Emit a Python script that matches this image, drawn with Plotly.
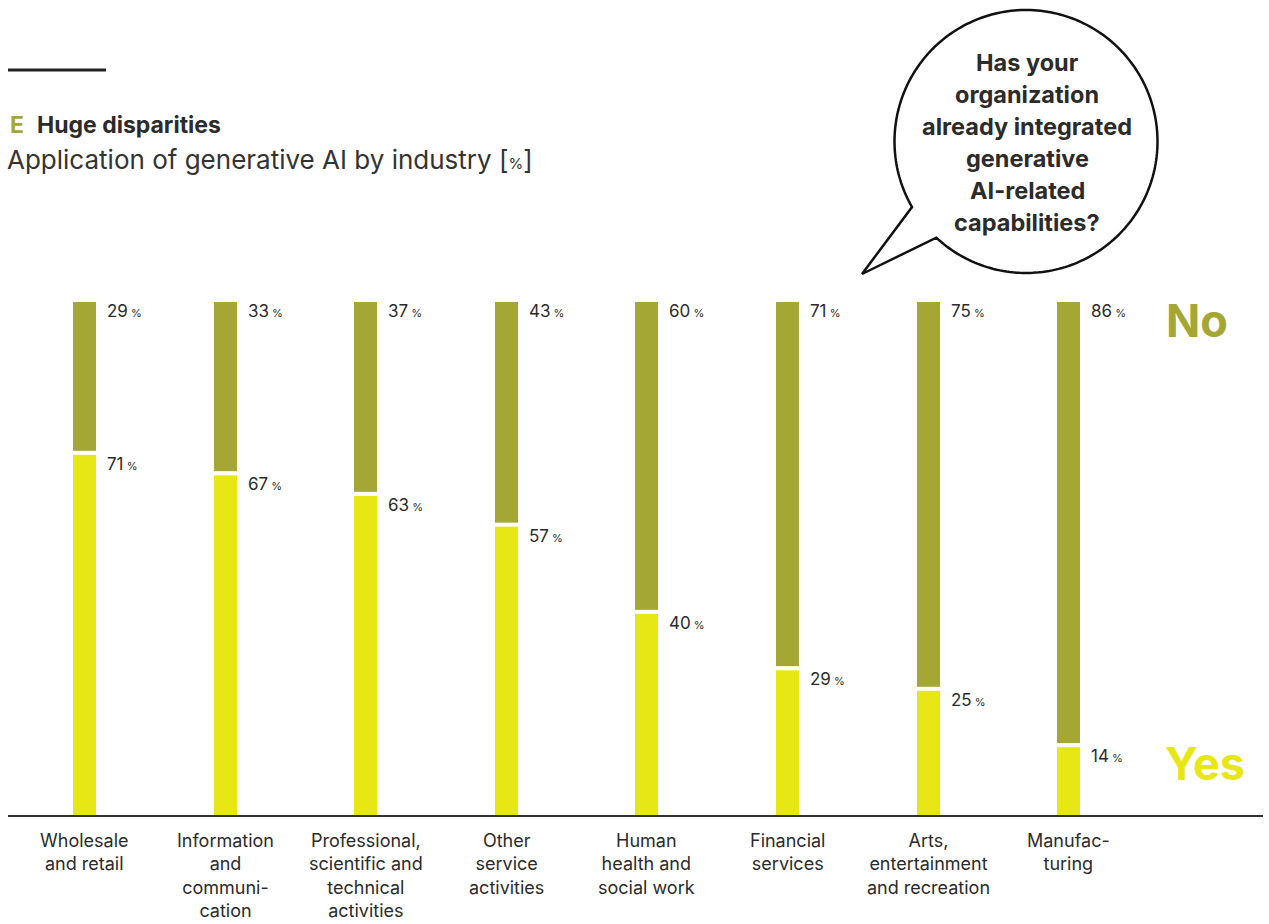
import numpy as np
import plotly.graph_objects as go

# Survey shares per industry, in percent
industries = [
    "Wholesale<br>and retail",
    "Information<br>and<br>communi-<br>cation",
    "Professional,<br>scientific and<br>technical<br>activities",
    "Other<br>service<br>activities",
    "Human<br>health and<br>social work",
    "Financial<br>services",
    "Arts,<br>entertainment<br>and recreation",
    "Manufac-<br>turing",
]
yes_share = [71, 67, 63, 57, 40, 29, 25, 14]
no_share = [29, 33, 37, 43, 60, 71, 75, 86]

question_lines = ["Has your", "organization", "already integrated",
                  "generative", "AI-related", "capabilities?"]

OLIVE = "#A4A733"
YELLOW = "#E8E716"
TEXT = "#2b2b2b"
FONT = "Inter"

W, H = 1269, 924
ML, MR, MT, MB = 8, 6, 302, 109
PW, PH = W - ML - MR, H - MT - MB

x = list(range(len(industries)))
bar_w = 0.164


def px(v):
    return (v - ML) / PW


def py(v):
    return (H - MB - v) / PH


fig = go.Figure()
fig.add_bar(x=x, y=yes_share, width=bar_w, marker=dict(color=YELLOW, line=dict(width=0)),
            name="Yes", hoverinfo="skip")
fig.add_bar(x=x, y=no_share, width=bar_w, marker=dict(color=OLIVE, line=dict(width=0)),
            name="No", hoverinfo="skip")

# white divider between the two segments of each bar
sx, sy = [], []
for i, v in zip(x, yes_share):
    sx += [i - bar_w * 0.6, i + bar_w * 0.6, None]
    sy += [v - 0.4, v - 0.4, None]
fig.add_scatter(x=sx, y=sy, mode="lines", line=dict(color="white", width=4),
                hoverinfo="skip", showlegend=False)


def pct(v):
    return f"{v}<span style='font-size:11px'> %</span>"


ann = []
for i, (y_, n_) in enumerate(zip(yes_share, no_share)):
    ann.append(dict(x=i + bar_w / 2, y=100, xref="x", yref="y", xanchor="left", yanchor="top",
                    xshift=9, yshift=3, text=pct(n_), showarrow=False,
                    font=dict(family=FONT, size=17, color=TEXT)))
    ann.append(dict(x=i + bar_w / 2, y=y_, xref="x", yref="y", xanchor="left", yanchor="top",
                    xshift=9, yshift=-1, text=pct(y_), showarrow=False,
                    font=dict(family=FONT, size=17, color=TEXT)))
    ann.append(dict(x=i, y=0, xref="x", yref="paper", xanchor="center", yanchor="top",
                    yshift=-13, text=industries[i], showarrow=False,
                    font=dict(family=FONT, size=18, color=TEXT)))

# big legend words
ann.append(dict(x=px(1197), y=py(320), xref="paper", yref="paper", xanchor="center",
                yanchor="middle", text="<b>No</b>", showarrow=False,
                font=dict(family=FONT, size=45, color=OLIVE)))
ann.append(dict(x=px(1205), y=py(763), xref="paper", yref="paper", xanchor="center",
                yanchor="middle", text="<b>Yes</b>", showarrow=False,
                font=dict(family=FONT, size=45, color=YELLOW)))

# heading
ann.append(dict(x=px(8), y=py(125), xref="paper", yref="paper", xanchor="left", yanchor="middle",
                text="<b>E</b>", showarrow=False, font=dict(family=FONT, size=23, color=OLIVE)))
ann.append(dict(x=px(35), y=py(125), xref="paper", yref="paper", xanchor="left", yanchor="middle",
                text="<b>Huge disparities</b>", showarrow=False,
                font=dict(family=FONT, size=23, color=TEXT)))
ann.append(dict(x=px(5), y=py(159), xref="paper", yref="paper", xanchor="left", yanchor="middle",
                text="Application of generative AI by industry [<span style='font-size:15px'>%</span>]",
                showarrow=False, font=dict(family=FONT, size=26, color="#333333")))

# question in the speech bubble
for k, line in enumerate(question_lines):
    ann.append(dict(x=px(1027), y=py(62 + 32 * k), xref="paper", yref="paper", xanchor="center",
                    yanchor="middle", text=f"<b>{line}</b>", showarrow=False,
                    font=dict(family=FONT, size=23.5, color=TEXT)))

# speech bubble outline: circle with a tail
cx, cy, r = 1026, 141.5, 131.5
a0, a1 = np.deg2rad(150.1), np.deg2rad(133.0 + 360)
ang = np.linspace(a0, a1, 240)
pts = [(cx + r * np.cos(a), cy + r * np.sin(a)) for a in ang]
pts.append((862, 274))
path = "M " + " L ".join(f"{px(u):.5f},{py(v):.5f}" for u, v in pts) + " Z"

shapes = [
    dict(type="path", path=path, xref="paper", yref="paper",
         line=dict(color="#111111", width=2.5), fillcolor="white", layer="above"),
    dict(type="line", xref="paper", yref="paper", x0=px(8), x1=px(106), y0=py(70), y1=py(70),
         line=dict(color="#222222", width=3)),
]

fig.update_layout(
    width=W, height=H, autosize=False,
    margin=dict(l=ML, r=MR, t=MT, b=MB),
    barmode="stack", bargap=0,
    plot_bgcolor="white", paper_bgcolor="white",
    showlegend=False,
    xaxis=dict(range=[-0.544, 8.382], showgrid=False, zeroline=False, showticklabels=False,
               showline=True, linecolor="#333333", linewidth=1.5, fixedrange=True),
    yaxis=dict(range=[0, 100], showgrid=False, zeroline=False, showticklabels=False,
               showline=False, fixedrange=True),
    annotations=ann,
    shapes=shapes,
)

fig.write_html("out.html")
